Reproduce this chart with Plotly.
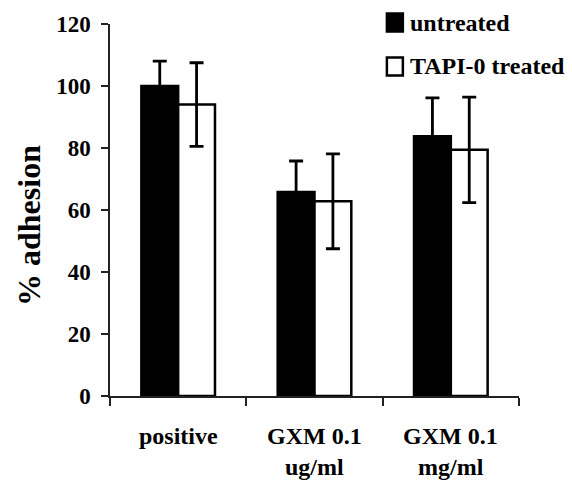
import plotly.graph_objects as go

categories = ["positive", "GXM 0.1 ug/ml", "GXM 0.1 mg/ml"]
label_line1 = ["positive", "GXM 0.1", "GXM 0.1"]
label_line2 = ["", "ug/ml", "mg/ml"]
series_names = ["untreated", "TAPI-0 treated"]
untreated = [100.0, 65.8, 83.8]
untreated_err = [8.0, 10.0, 12.4]
tapi = [94.0, 62.8, 79.4]
tapi_err = [13.5, 15.3, 17.0]
y_ticks = [0, 20, 40, 60, 80, 100, 120]
y_title = "% adhesion"

FONT = "Liberation Serif"
fills = ["black", "white"]

fig = go.Figure()
for name, vals, errs, fill in zip(series_names, [untreated, tapi],
                                  [untreated_err, tapi_err], fills):
    fig.add_trace(go.Bar(
        x=categories, y=vals, name=name, showlegend=False,
        marker=dict(color=fill, line=dict(color="black", width=2.5)),
        error_y=dict(type="data", array=errs, visible=True,
                     color="black", thickness=2.8, width=7),
    ))

def bfont(size):
    return dict(family=FONT, size=size, color="black", weight="bold")

annotations = []
for c, l1, l2 in zip(categories, label_line1, label_line2):
    annotations.append(dict(x=c, xref="x", y=-0.1075, yref="paper", text=l1,
                            showarrow=False, yanchor="middle", font=bfont(24)))
    if l2:
        annotations.append(dict(x=c, xref="x", y=-0.19, yref="paper", text=l2,
                                showarrow=False, yanchor="middle", font=bfont(24)))

# y-axis title
annotations.append(dict(x=-0.198, xref="paper", y=0.457, yref="paper", text=y_title,
                        textangle=-90, showarrow=False, xanchor="center",
                        yanchor="middle", font=bfont(32)))

# manual legend (swatch + label)
shapes = []
leg_rows = [(1.0282, 0.9798, 1.004), (0.9099, 0.8616, 0.887)]
for (y0, y1, yt), name, fill in zip(leg_rows, series_names, fills):
    shapes.append(dict(type="rect", xref="paper", yref="paper",
                       x0=0.677, x1=0.716, y0=y1, y1=y0,
                       fillcolor=fill, line=dict(color="black", width=2.5)))
    annotations.append(dict(x=0.729, xref="paper", y=yt, yref="paper", text=name,
                            showarrow=False, xanchor="left", yanchor="middle",
                            font=bfont(24)))

fig.update_layout(
    width=572, height=480,
    margin=dict(l=110, r=53, t=24, b=84, autoexpand=False),
    plot_bgcolor="white", paper_bgcolor="white",
    barmode="group", bargap=0.46, bargroupgap=0,
    showlegend=False,
    annotations=annotations,
    shapes=shapes,
    xaxis=dict(
        type="category", tickson="boundaries", ticks="outside", ticklen=8,
        tickwidth=1.5, tickcolor="#222", showticklabels=False,
        showline=True, linecolor="#222", linewidth=1.5,
        showgrid=False, zeroline=False, range=[-0.5, 2.5],
    ),
    yaxis=dict(
        range=[0, 120], tickvals=y_ticks, ticks="outside", ticklen=7,
        tickwidth=1.5, tickcolor="#222",
        showline=True, linecolor="#222", linewidth=1.5,
        showgrid=False, zeroline=False,
        tickfont=bfont(23),
        ticklabelstandoff=6,
    ),
)

fig.write_html("out.html", config={"displayModeBar": False},
               post_script="document.body.style.margin='0';document.body.style.overflow='hidden';")
